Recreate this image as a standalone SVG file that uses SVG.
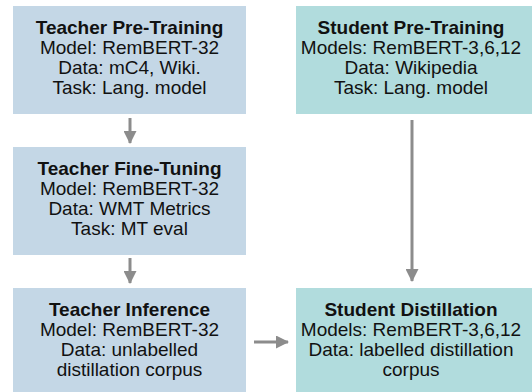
<svg xmlns="http://www.w3.org/2000/svg" width="532" height="392" viewBox="0 0 532 392">
<style>
.t{fill:#c4d7e6}
.s{fill:#b1dcdd}
text{font-family:"Liberation Sans",Arial,sans-serif;font-size:19px;fill:#111;text-anchor:middle}
.b{font-weight:bold}
.c{stroke:#8c8c8c;stroke-width:3;fill:none}
</style>
<defs>
<marker id="ah" markerWidth="13" markerHeight="13" viewBox="0 0 13 13" refX="12" refY="6.5" orient="auto" markerUnits="userSpaceOnUse">
<path d="M0,0 L13,6.5 L0,13 Z" fill="#8c8c8c"/>
</marker>
</defs>
<rect width="532" height="392" fill="#fff"/>
<g id="connectors">
<line class="c" x1="130" y1="118" x2="130" y2="143" marker-end="url(#ah)"/>
<line class="c" x1="130" y1="258" x2="130" y2="283" marker-end="url(#ah)"/>
<line class="c" x1="412" y1="120" x2="412" y2="281" marker-end="url(#ah)"/>
<line class="c" x1="254" y1="342" x2="288" y2="342" marker-end="url(#ah)"/>
</g>
<g id="teacher-pretraining">
<rect class="t" x="13" y="6" width="233" height="108"/>
<text x="129.5" y="34" class="b">Teacher Pre-Training</text>
<text x="129.5" y="54">Model: RemBERT-32</text>
<text x="129.5" y="74">Data: mC4, Wiki.</text>
<text x="129.5" y="94">Task: Lang. model</text>
</g>
<g id="teacher-finetuning">
<rect class="t" x="13" y="147" width="233" height="108"/>
<text x="129.5" y="175" class="b">Teacher Fine-Tuning</text>
<text x="129.5" y="195">Model: RemBERT-32</text>
<text x="129.5" y="215">Data: WMT Metrics</text>
<text x="129.5" y="235">Task: MT eval</text>
</g>
<g id="teacher-inference">
<rect class="t" x="13" y="288" width="233" height="108"/>
<text x="129.5" y="316" class="b">Teacher Inference</text>
<text x="129.5" y="336">Model: RemBERT-32</text>
<text x="129.5" y="356">Data: unlabelled</text>
<text x="129.5" y="376">distillation corpus</text>
</g>
<g id="student-pretraining">
<rect class="s" x="296" y="6" width="240" height="108"/>
<text x="411" y="34" class="b">Student Pre-Training</text>
<text x="411" y="54">Models: RemBERT-3,6,12</text>
<text x="411" y="74">Data: Wikipedia</text>
<text x="411" y="94">Task: Lang. model</text>
</g>
<g id="student-distillation">
<rect class="s" x="296" y="288" width="240" height="108"/>
<text x="411" y="316" class="b">Student Distillation</text>
<text x="411" y="336">Models: RemBERT-3,6,12</text>
<text x="411" y="356">Data: labelled distillation</text>
<text x="411" y="376">corpus</text>
</g>
</svg>
